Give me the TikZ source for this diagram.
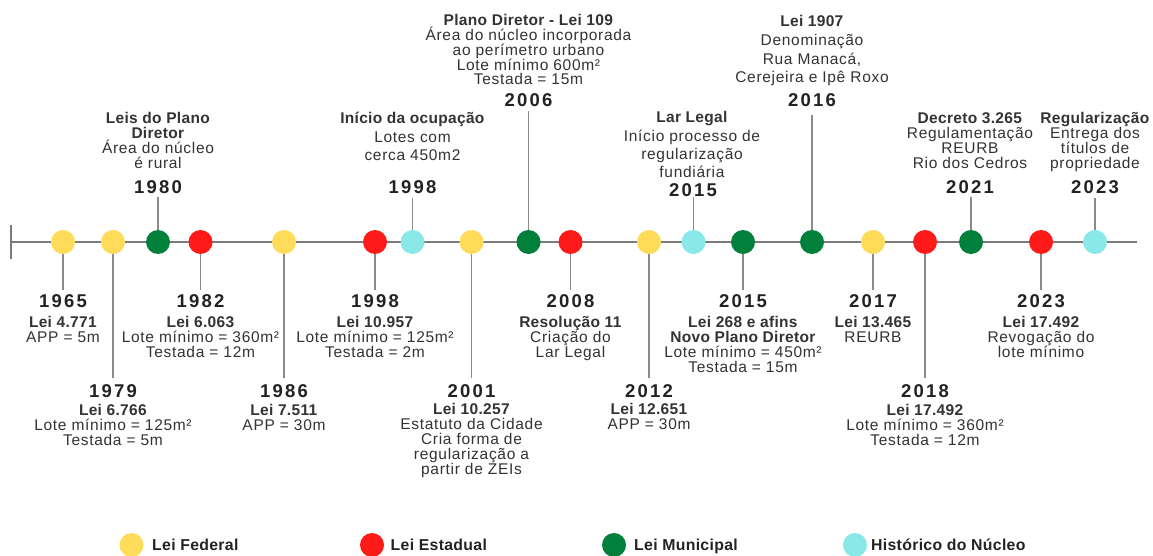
\documentclass[tikz,border=0pt]{standalone}
\usepackage{fontspec}
\setmainfont[LetterSpace=4.5,BoldFeatures={LetterSpace=2}]{Liberation Sans}
\newfontfamily\yearfont[LetterSpace=12]{Liberation Sans}
\definecolor{cyel}{HTML}{FFDB5A}
\definecolor{cred}{HTML}{FF1A1A}
\definecolor{cgrn}{HTML}{00803A}
\definecolor{ccya}{HTML}{8BE8E8}
\definecolor{ctxt}{HTML}{333333}
\definecolor{cbold}{HTML}{222222}
\definecolor{cline}{HTML}{7A7A7A}
\definecolor{cconn}{HTML}{8A8A8A}
\newcommand\fst{\rule{0pt}{15pt}}
\newcommand\tightlines{\lineskiplimit=-50pt\relax\lineskip=0pt\relax}
\tikzset{
  dot/.style={circle,minimum size=24pt,inner sep=0pt,draw=none},
  yel/.style={dot,fill=cyel},
  red/.style={dot,fill=cred},
  grn/.style={dot,fill=cgrn},
  cya/.style={dot,fill=ccya},
  tline/.style={draw=cline,line width=1.5pt},
  conn/.style={draw=cconn,line width=1.3pt},
  yr/.style={anchor=base,inner sep=0pt,text=cbold,font=\yearfont\fontsize{18.5}{20}\selectfont\bfseries},
  txt/.style={anchor=north,inner sep=0pt,align=center,text=ctxt,
     font={\fontsize{15.5}{#1}\selectfont\tightlines}},
  txt/.default=15,
  leg/.style={anchor=west,inner sep=0pt,text height=11.5pt,text depth=0pt,text=cbold,font=\fontsize{15.8}{18}\selectfont\bfseries}
}
\begin{document}
\begin{tikzpicture}[x=1pt,y=-1pt]
\useasboundingbox[fill=white] (0,0) rectangle (1153,556);
% timeline
\coordinate (tlL) at (11,242);
\coordinate (tlR) at (1137,242);
\coordinate (tkT) at (11,225);
\coordinate (tkB) at (11,259);
\draw[tline] (tlL) -- (tlR);
\draw[tline] (tkT) -- (tkB);
% dots
\node[yel] (d1965) at (63,242) {};
\node[yel] (d1979) at (113,242) {};
\node[grn] (d1980) at (158,242) {};
\node[red] (d1982) at (200.5,242) {};
\node[yel] (d1986) at (284,242) {};
\node[red] (d1998b) at (375,242) {};
\node[cya] (d1998a) at (412.5,242) {};
\node[yel] (d2001) at (471.5,242) {};
\node[grn] (d2006) at (528.5,242) {};
\node[red] (d2008) at (570.5,242) {};
\node[yel] (d2012) at (649,242) {};
\node[cya] (d2015a) at (693.5,242) {};
\node[grn] (d2015b) at (743,242) {};
\node[grn] (d2016) at (812,242) {};
\node[yel] (d2017) at (873,242) {};
\node[red] (d2018) at (925,242) {};
\node[grn] (d2021) at (971,242) {};
\node[red] (d2023b) at (1041,242) {};
\node[cya] (d2023a) at (1095,242) {};
% connector ends
\coordinate (e1965) at (63,290);
\coordinate (e1979) at (113,378);
\coordinate (e1980) at (158,197);
\coordinate (e1982) at (200.5,290);
\coordinate (e1986) at (284,378);
\coordinate (e1998b) at (375,290);
\coordinate (e1998a) at (412.5,198);
\coordinate (e2001) at (471.5,378);
\coordinate (e2006) at (528.5,111);
\coordinate (e2008) at (570.5,290);
\coordinate (e2012) at (649,378);
\coordinate (e2015a) at (693.5,197);
\coordinate (e2015b) at (743,290);
\coordinate (e2016) at (812,115);
\coordinate (e2017) at (873,290);
\coordinate (e2018) at (925,378);
\coordinate (e2021) at (971,197);
\coordinate (e2023b) at (1041,290);
\coordinate (e2023a) at (1095,198);
\foreach \k in {1965,1979,1980,1982,1986,1998b,1998a,2001,2006,2008,2012,2015a,2015b,2016,2017,2018,2021,2023b,2023a}{
  \draw[conn] (d\k) -- (e\k);
}
% ---------- above ----------
\node[txt] (t1980) at (158,108.6) {\fst\textbf{Leis do Plano}\\\textbf{Diretor}\\Área do núcleo\\é rural};
\node[yr] (y1980) at (158,193.6) {1980};
\node[txt=18.5] (t1998a) at (412.5,108.6) {\fst\textbf{Início da ocupação}\\Lotes com\\cerca 450m2};
\node[yr] (y1998a) at (412.5,193.6) {1998};
\node[txt=14.8] (t2006) at (528.5,10.6) {\fst\textbf{Plano Diretor - Lei 109}\\Área do núcleo incorporada\\ao perímetro urbano\\Lote mínimo 600m²\\Testada = 15m};
\node[yr] (y2006) at (528.5,106.6) {2006};
\node[txt=18.3] (t2015a) at (692,107.6) {\fst\textbf{Lar Legal}\\Início processo de\\regularização\\fundiária};
\node[yr] (y2015a) at (693,196.6) {2015};
\node[txt=18.7] (t2016) at (812,11.6) {\fst\textbf{Lei 1907}\\Denominação\\Rua Manacá,\\Cerejeira e Ipê Roxo};
\node[yr] (y2016) at (812,106.6) {2016};
\node[txt] (t2021) at (970,108.6) {\fst\textbf{Decreto 3.265}\\Regulamentação\\REURB\\Rio dos Cedros};
\node[yr] (y2021) at (970,193.6) {2021};
\node[txt] (t2023a) at (1095,108.6) {\fst\textbf{Regularização}\\Entrega dos\\títulos de\\propriedade};
\node[yr] (y2023a) at (1095,193.6) {2023};
% ---------- below ----------
\node[yr] (y1965) at (63,307.6) {1965};
\node[txt] (t1965) at (63,312.6) {\fst\textbf{Lei 4.771}\\APP = 5m};
\node[yr] (y1982) at (200.5,307.6) {1982};
\node[txt] (t1982) at (200.5,312.6) {\fst\textbf{Lei 6.063}\\Lote mínimo = 360m²\\Testada = 12m};
\node[yr] (y1979) at (113,397.6) {1979};
\node[txt] (t1979) at (113,400.6) {\fst\textbf{Lei 6.766}\\Lote mínimo = 125m²\\Testada = 5m};
\node[yr] (y1986) at (284,397.6) {1986};
\node[txt] (t1986) at (284,400.6) {\fst\textbf{Lei 7.511}\\APP = 30m};
\node[yr] (y1998b) at (375,307.6) {1998};
\node[txt] (t1998b) at (375,312.6) {\fst\textbf{Lei 10.957}\\Lote mínimo = 125m²\\Testada = 2m};
\node[yr] (y2001) at (471.5,397.6) {2001};
\node[txt] (t2001) at (471.5,399.6) {\fst\textbf{Lei 10.257}\\Estatuto da Cidade\\Cria forma de\\regularização a\\partir de ZEIs};
\node[yr] (y2008) at (570.5,307.6) {2008};
\node[txt] (t2008) at (570.5,312.6) {\fst\textbf{Resolução 11}\\Criação do\\Lar Legal};
\node[yr] (y2012) at (649,397.6) {2012};
\node[txt] (t2012) at (649,399.6) {\fst\textbf{Lei 12.651}\\APP = 30m};
\node[yr] (y2015b) at (743,307.6) {2015};
\node[txt] (t2015b) at (743,312.6) {\fst\textbf{Lei 268 e afins}\\\textbf{Novo Plano Diretor}\\Lote mínimo = 450m²\\Testada = 15m};
\node[yr] (y2017) at (873,307.6) {2017};
\node[txt] (t2017) at (873,312.6) {\fst\textbf{Lei 13.465}\\REURB};
\node[yr] (y2018) at (925,397.6) {2018};
\node[txt] (t2018) at (925,400.6) {\fst\textbf{Lei 17.492}\\Lote mínimo = 360m²\\Testada = 12m};
\node[yr] (y2023b) at (1041,307.6) {2023};
\node[txt] (t2023b) at (1041,312.6) {\fst\textbf{Lei 17.492}\\Revogação do\\lote mínimo};
% ---------- legend ----------
\node[yel] (lg1) at (131.5,545) {};
\node[leg] (lt1) at (152,545) {Lei Federal};
\node[red] (lg2) at (372,545) {};
\node[leg] (lt2) at (390.5,545) {Lei Estadual};
\node[grn] (lg3) at (614,545) {};
\node[leg] (lt3) at (634,545) {Lei Municipal};
\node[cya] (lg4) at (855,545) {};
\node[leg] (lt4) at (871,545) {Histórico do Núcleo};
\end{tikzpicture}
\end{document}
